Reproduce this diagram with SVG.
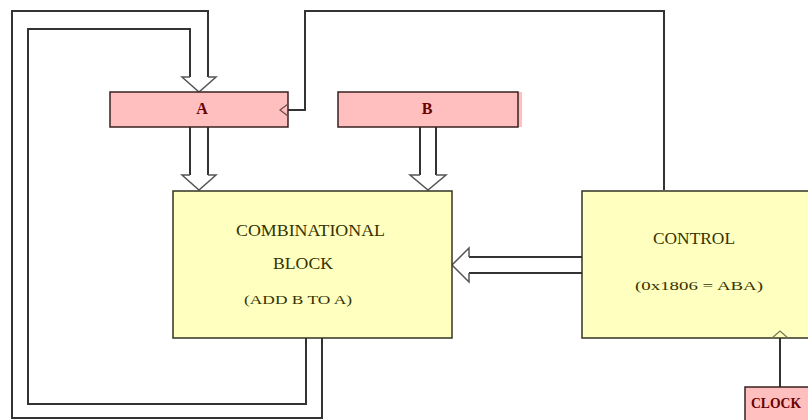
<svg xmlns="http://www.w3.org/2000/svg" width="808" height="420" viewBox="0 0 808 420">
<style>
.blk{fill:#ffffc0;stroke:#333322;stroke-width:1.5}
.reg{fill:#ffbfbf;stroke:#3a2020;stroke-width:1.5}
.w{fill:none;stroke:#333;stroke-width:2}
.ah{fill:#fff;stroke:#555;stroke-width:1.5}
.bt{font-family:"Liberation Serif",serif;fill:#333300}
.rt{font-family:"Liberation Serif",serif;font-weight:bold;fill:#6a0000}
</style>
<rect width="808" height="420" fill="#fff"/>
<g id="connectors">
<path class="w" d="M322,338 V418 H12 V11 H208 V77"/>
<path class="w" d="M306,338 V404 H28 V29 H190 V77"/>
<polyline class="ah" points="190,77 182,77 199,92 216,77 208,77"/>
<path class="w" d="M190,127 V175 M208,127 V175"/>
<polyline class="ah" points="190,175 182,175 199,190 216,175 208,175"/>
<path class="w" d="M420,127 V175 M436,127 V175"/>
<polyline class="ah" points="420,175 410,175 428,190 446,175 436,175"/>
<path class="w" d="M582,257 H469 M582,273 H469"/>
<polyline class="ah" points="469,257 469,248 452,265 469,282 469,273"/>
<path class="w" d="M664,190 V11 H305 V110 H288"/>
<path class="w" d="M780,338 V387"/>
</g>
<g id="A">
<rect class="reg" x="110" y="92" width="178" height="35"/>
<text class="rt" x="202" y="114" font-size="16" text-anchor="middle">A</text>
<polyline points="288,104 280,110 288,116" fill="none" stroke="#6a4a4a" stroke-width="1.2"/>
</g>
<g id="B">
<rect x="338" y="92" width="184" height="35" fill="#ffbfbf"/>
<rect class="reg" x="338" y="92" width="180" height="35" fill="none"/>
<text class="rt" x="427" y="114" font-size="16" text-anchor="middle">B</text>
</g>
<g id="combinational">
<rect class="blk" x="173" y="191" width="279" height="147"/>
<text class="bt" x="236" y="236" font-size="17" textLength="149" lengthAdjust="spacingAndGlyphs">COMBINATIONAL</text>
<text class="bt" x="273" y="269" font-size="17" textLength="60" lengthAdjust="spacingAndGlyphs">BLOCK</text>
<text class="bt" x="244" y="304" font-size="13" textLength="108" lengthAdjust="spacingAndGlyphs">(ADD B TO A)</text>
</g>
<g id="control">
<rect class="blk" x="582" y="191" width="234" height="147"/>
<text class="bt" x="653" y="244" font-size="17" textLength="82" lengthAdjust="spacingAndGlyphs">CONTROL</text>
<text class="bt" x="635" y="290" font-size="13" textLength="128" lengthAdjust="spacingAndGlyphs">(0x1806 = ABA)</text>
<polyline points="772,338 780,331 788,338" fill="none" stroke="#777755" stroke-width="1.2"/>
</g>
<g id="clock">
<rect class="reg" x="745" y="387" width="80" height="40"/>
<text class="rt" x="751" y="408" font-size="14" font-weight="normal" textLength="50" lengthAdjust="spacingAndGlyphs">CLOCK</text>
</g>
</svg>
